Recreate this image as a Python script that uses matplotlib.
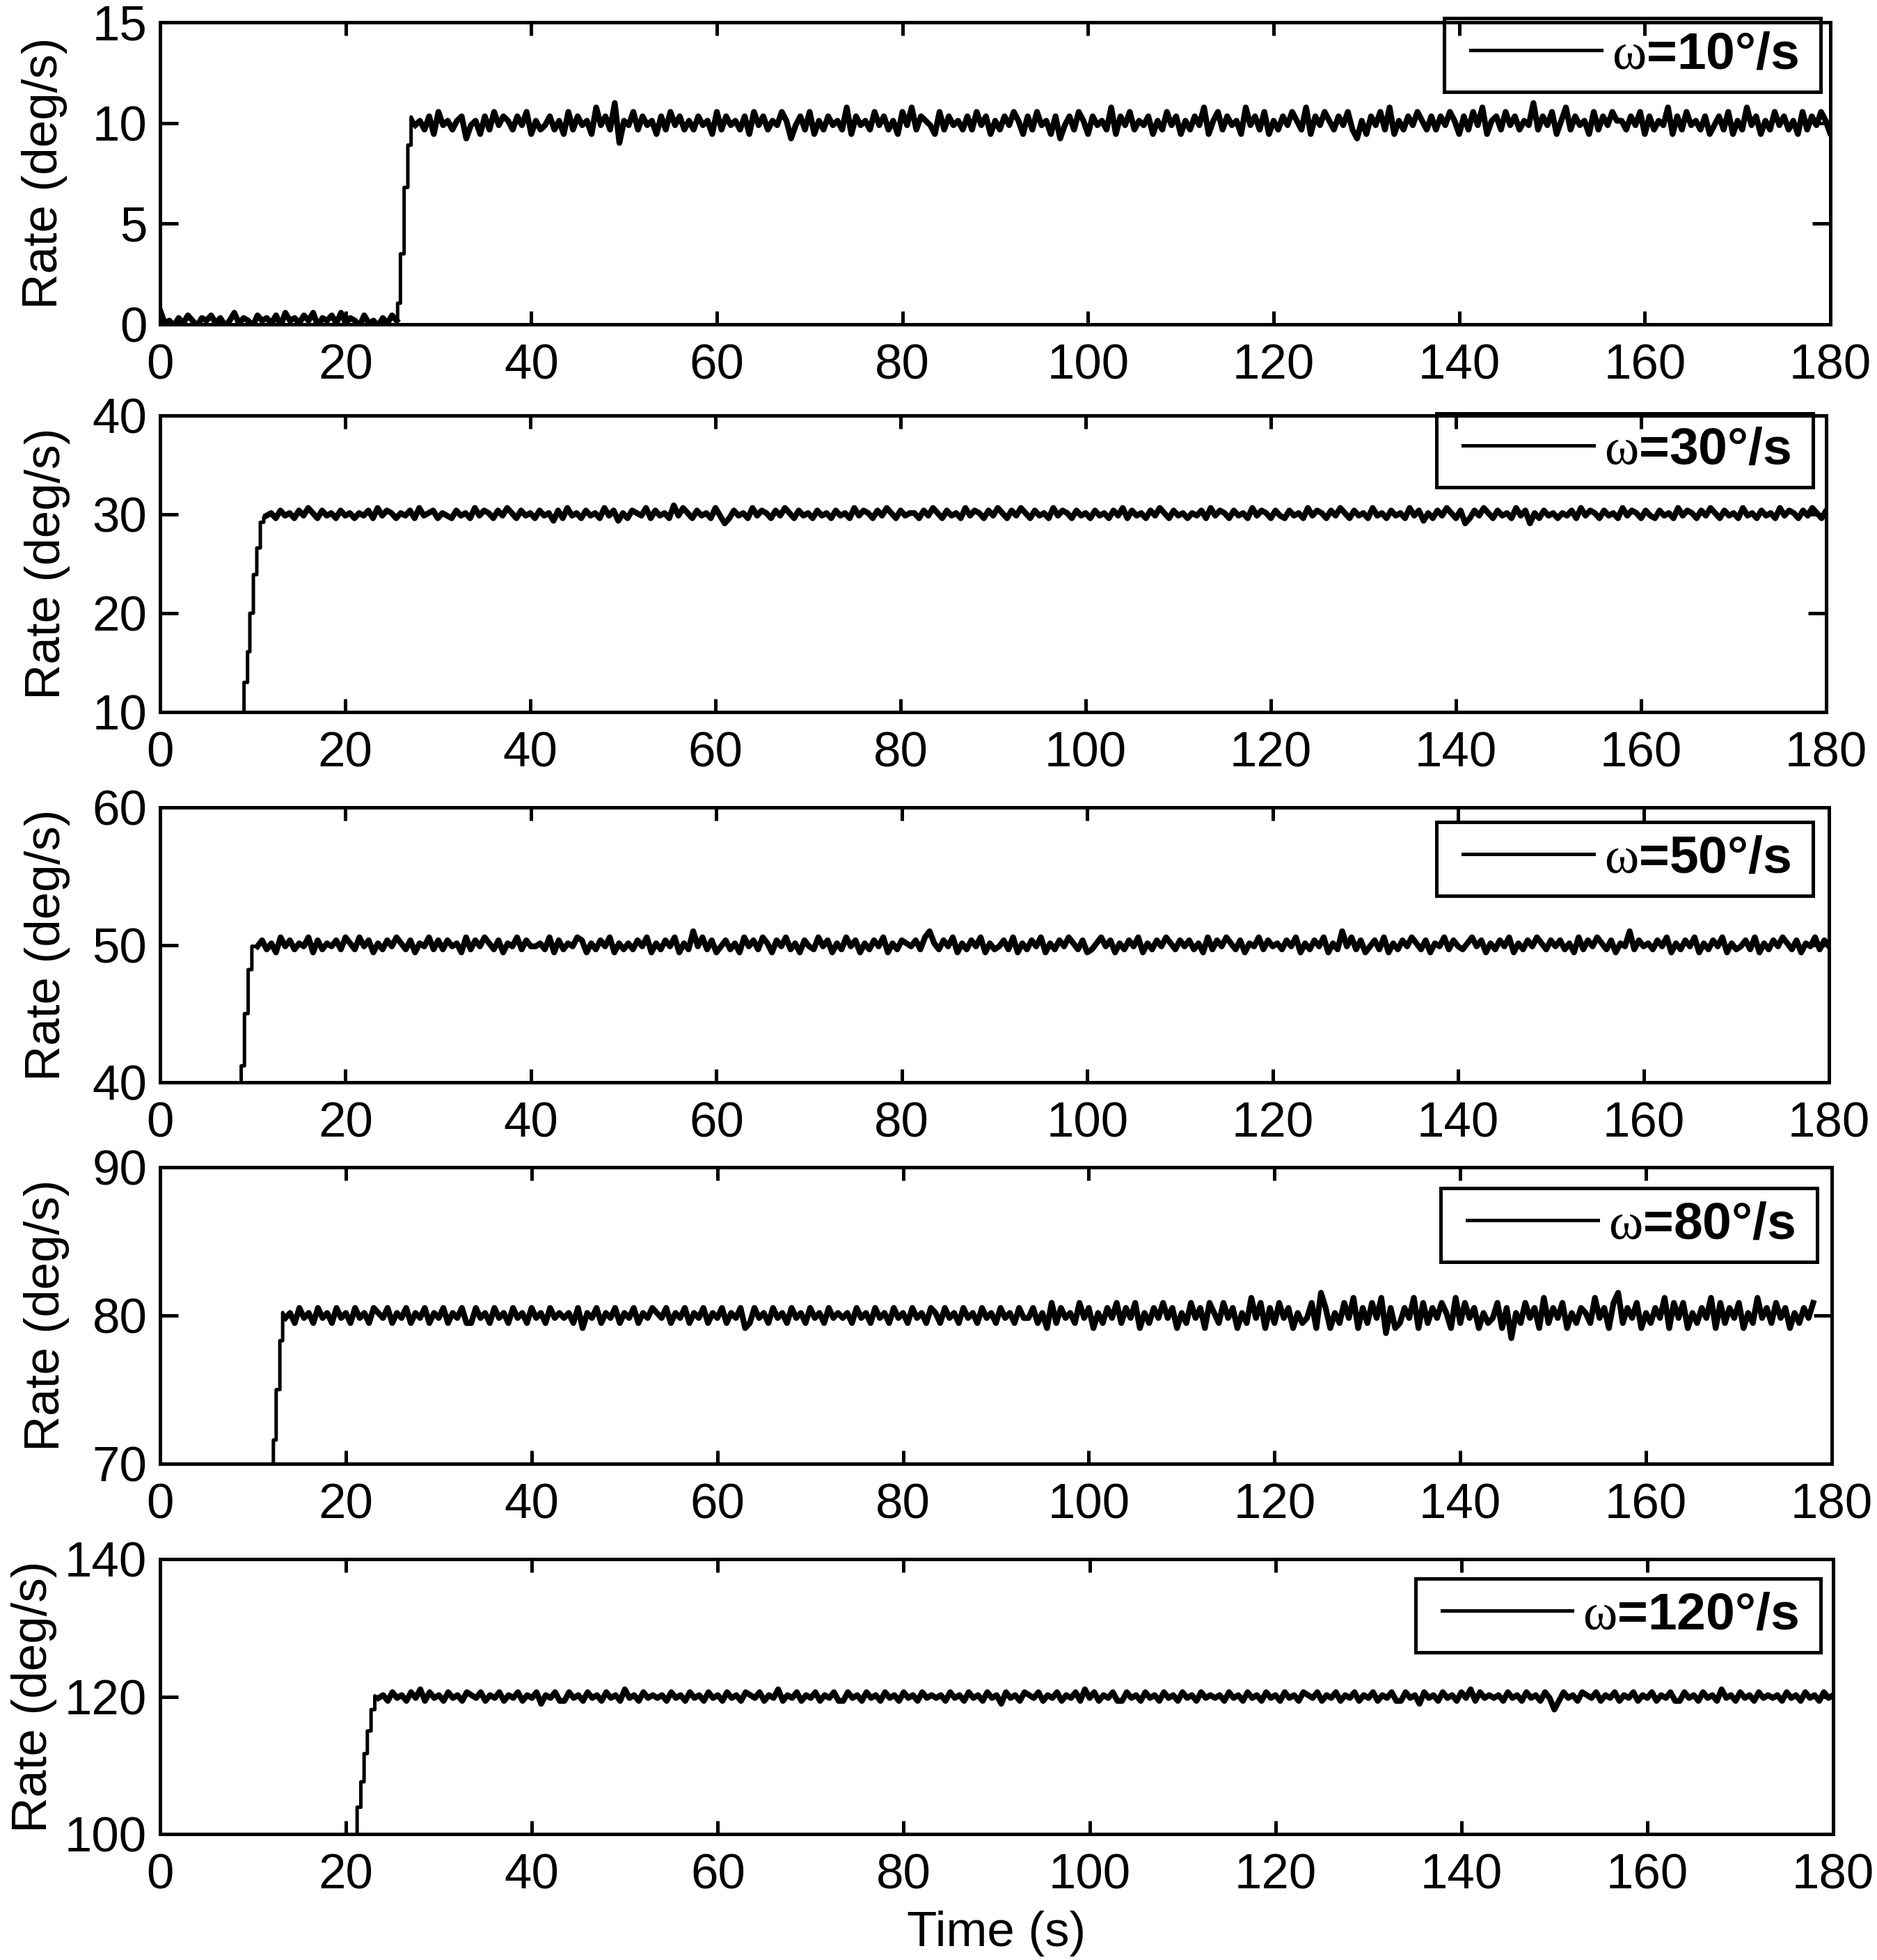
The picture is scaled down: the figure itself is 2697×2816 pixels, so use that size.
import numpy as np
import matplotlib.pyplot as plt
from matplotlib.patches import Rectangle

plt.rcParams['font.family'] = ['Liberation Sans', 'DejaVu Sans']
plt.rcParams['mathtext.fontset'] = 'custom'
plt.rcParams['mathtext.rm'] = 'Liberation Serif'

# ---------------- data ----------------
rates = [10, 30, 50, 80, 120]                     # commanded rate of each panel (deg/s)
y_limits = [(0, 15), (10, 40), (40, 60), (70, 90), (100, 140)]
y_ticks = [[0, 5, 10, 15], [10, 20, 30, 40], [40, 50, 60], [70, 80, 90], [100, 120, 140]]
x_ticks = [0, 20, 40, 60, 80, 100, 120, 140, 160, 180]

# start-up staircase of every run: time of each jump (s) and rate after it (deg/s)
ramp_t_10 = [25.6, 25.9, 26.3, 26.7, 27.05]
ramp_v_10 = [1.05, 3.5, 6.8, 8.9, 10.3]
ramp_t_30 = [0, 9.07, 9.45, 9.70, 10.08, 10.45, 10.83, 11.2]
ramp_v_30 = [0, 13.0, 16.1, 20.0, 23.9, 26.6, 29.2, 29.7]
ramp_t_50 = [0, 8.75, 9.1, 9.5, 9.9]
ramp_v_50 = [0, 41.2, 45.0, 48.2, 49.9]
ramp_t_80 = [0, 12.2, 12.5, 12.9, 13.2]
ramp_v_80 = [0, 71.6, 75.0, 78.3, 80.2]
ramp_t_120 = [0, 21.2, 21.6, 21.95, 22.3, 22.7, 23.1]
ramp_v_120 = [0, 103.9, 107.6, 111.7, 115.0, 118.1, 120.1]

# rate noise, one digit per 0.5 s sample:  rate = level + (digit - 4.5) * step
pre_10 = ("94536475365746358465"
          "37564738564758365748"
          "465374536475")          # 0 .. 25.5 s, before the table starts
pre_level, pre_step = 0.12, 0.13

noise_start = [27.5, 11.5, 10.5, 13.5, 23.5]
noise_level = [10.0, 30.0, 50.0, 80.0, 120.0]
noise_step = [0.22, 0.26, 0.22, 0.34, 0.42]

noise_10 = ("45362745356145263746" "53647253463527364528" "46390547364526374635"
            "36452736453627463547" "51463725364538264537" "46352748365427364536"
            "37462536475263745261" "46375264538264735462" "53746253648257364528"
            "46372536475382647536" "47315264738253647536" "36475263748256374635"
            "49364725836452736475" "53647263548263745362" "46372538462537463527"
            "36475263748256374653")
noise_30 = ("45364536475364536453" "54637465354637456354" "36453746536475364536"
            "45263745364537462536" "54736453847536453741" "36453746536475364536"
            "45364537465364753645" "53647536453746536475" "36475364537465364536"
            "45364736453647536453" "54637465364537465364" "36453746536475364537"
            "45364537462536475361" "36475364537461536453" "54637465364537465364"
            "36453746536475364537" "45364537465364753645")
noise_50 = ("46352746354726354637" "53746253647536254736" "36452736475362547364"
            "45372635476253647253" "53647253647253947362" "46352746375264735264"
            "37462537462536472536" "54637953647253647253" "46372536472536475362"
            "35746253647253647536" "46352736475362547364" "53647253647253947362"
            "46372536475362547364" "35746253647253647536" "46352736475362549364"
            "53647253647253647253" "46372536475362547364")
noise_80 = ("45364536453645364536" "54635463546354635463" "36453645364536453645"
            "45362546354635463546" "54635463546354635462" "36453645364536453645"
            "45364536453645364536" "53645364536453645364" "46352736453746253647"
            "36472536474625374627" "53746253847263746253" "47296253748263748162"
            "36482736475283746253" "47260537462836472536" "53846279364725364827"
            "47253648273647253846" "3746253647")
noise_120 = ("45364536473645364536" "54635463546354625463" "36453645364537453645"
             "45364536453645364536" "54635473546354635463" "36453645364536453645"
             "45364536453645264536" "54635463546374635463" "36453645364536453645"
             "45364536453645364536" "54635463546354635463" "36452645364536473645"
             "45364536453640364536" "54635463546354635463" "36453645374536453645"
             "45364536453645364536")

ramps_t = [ramp_t_10, ramp_t_30, ramp_t_50, ramp_t_80, ramp_t_120]
ramps_v = [ramp_v_10, ramp_v_30, ramp_v_50, ramp_v_80, ramp_v_120]
noises = [noise_10, noise_30, noise_50, noise_80, noise_120]


def decode(digits, t0, level, step):
    """digit string -> (time, rate) arrays, 0.5 s between samples"""
    d = np.array([int(c) for c in digits])
    return t0 + 0.5 * np.arange(len(d)), level + (d - 4.5) * step


def staircase(t, v):
    """corner points of a zero-order-hold staircase"""
    t = np.asarray(t, float)
    v = np.asarray(v, float)
    return np.repeat(t, 2)[1:], np.repeat(v, 2)[:-1]


# ---------------- layout (pixels of the 2697 x 2816 picture) ----------------
W, H = 2697, 2816
panel_px = [(230, 2630, 32, 466), (230, 2624, 597, 1023), (230, 2628, 1160, 1555),
            (230, 2632, 1677, 2103), (230, 2634, 2240, 2635)]
# legend box: right edge, vertical centre (px)
legend_box = [(2616, 79), (2605, 647), (2605, 1234), (2611, 1760), (2616, 2321)]
box_h, pad_l, pad_r = 106, 38, 32
ylabel_x = [-0.0555, -0.054, -0.054, -0.054, -0.0617]

fig = plt.figure(figsize=(W / 300, H / 300), dpi=300)
legends = []

for i in range(5):
    l, r, t, b = panel_px[i]
    ax = fig.add_axes([l / W, 1 - b / H, (r - l) / W, (b - t) / H])

    if i == 0:   # the 10 deg/s run shows the resting part too
        t_pre, v_pre = decode(pre_10, 0.0, pre_level, pre_step)
        ax.plot(t_pre, v_pre, color='k', lw=2.0)
        t_r, v_r = staircase([t_pre[-1]] + ramps_t[i], [v_pre[-1]] + ramps_v[i])
    else:
        t_r, v_r = staircase(ramps_t[i], ramps_v[i])
    t_n, v_n = decode(noises[i], noise_start[i], noise_level[i], noise_step[i])

    ax.plot(np.append(t_r, t_n[0]), np.append(v_r, v_n[0]), color='k', lw=1.2,
            label=r'$\mathrm{\omega}$=%d°/s' % rates[i])
    ax.plot(t_n, v_n, color='k', lw=2.0)

    ax.set_xlim(0, 180)
    ax.set_ylim(*y_limits[i])
    ax.set_xticks(x_ticks)
    ax.set_yticks(y_ticks[i])
    ax.tick_params(axis='both', direction='in', top=True, right=True,
                   width=1.2, labelsize=17)
    ax.tick_params(axis='x', length=4.6, pad=6.5)
    ax.tick_params(axis='y', length=6.2, pad=4.5)
    for s in ax.spines.values():
        s.set_linewidth(1.2)
    ax.set_ylabel('Rate (deg/s)', fontsize=17)
    ax.yaxis.set_label_coords(ylabel_x[i], 0.5)

    bx_r, bx_c = legend_box[i]
    leg = ax.legend(loc='center right',
                    bbox_to_anchor=((bx_r - pad_r - l) / (r - l), (b - bx_c) / (b - t)),
                    borderaxespad=0, borderpad=0, frameon=False,
                    prop={'weight': 'bold', 'size': 18}, handlelength=2.5,
                    handletextpad=0.2)
    legends.append(leg)

    if i == 4:
        ax.set_xlabel('Time (s)', fontsize=17, labelpad=4)

# square legend frames drawn round the legend contents
fig.canvas.draw()
for i, leg in enumerate(legends):
    bb = leg.get_window_extent()
    bx_r, bx_c = legend_box[i]
    x0 = bb.x0 - pad_l
    y0 = H - bx_c - box_h / 2
    fig.add_artist(Rectangle((x0 / W, y0 / H), (bx_r - x0) / W, box_h / H,
                             transform=fig.transFigure, fill=False,
                             lw=1.2, ec='k', zorder=5))

plt.savefig('out.png', dpi=300)
